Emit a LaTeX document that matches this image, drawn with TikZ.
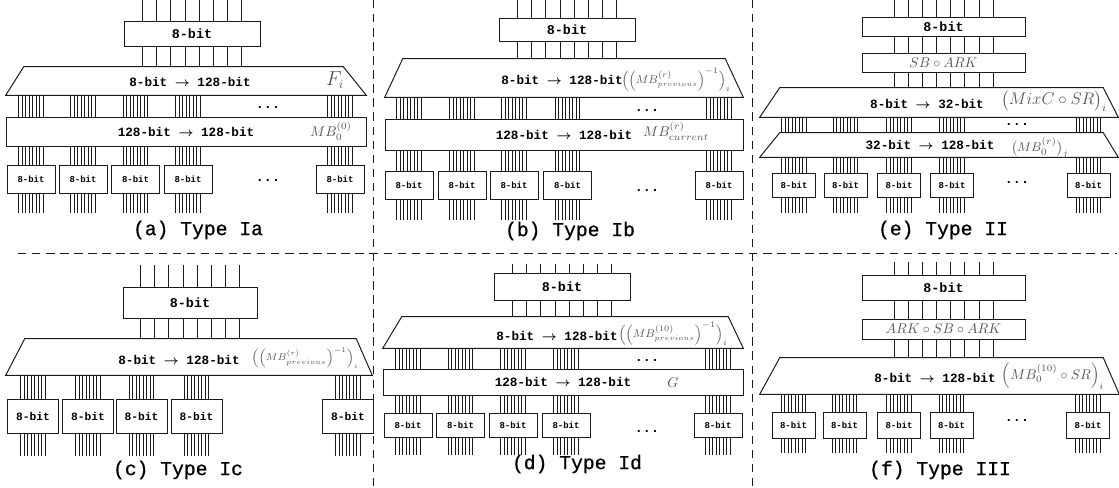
\documentclass[tikz,border=0pt]{standalone}
\usepackage{amsmath}
\usepackage{fontspec}
\setmonofont{Liberation Mono}
\newfontfamily\capfont{Liberation Mono}[FakeBold=0.8]
\usepackage{tikz}
\usetikzlibrary{positioning, calc}
\definecolor{lineDark}{HTML}{1A1A1A}
\definecolor{fnGray}{HTML}{555555}

\begin{document}
\begin{tikzpicture}[
        x=0.25mm, y=-0.25mm,
        blk/.style={
            draw=lineDark,
            line width=0.7pt,
            inner sep=0pt,
            minimum width=34mm,
            minimum height=6.25mm,
            font=\fontsize{9.5}{11}\selectfont\ttfamily\bfseries
        },
        cell/.style={
            draw=lineDark,
            line width=0.7pt,
            inner sep=0pt,
            minimum width=12mm,
            minimum height=7mm,
            font=\fontsize{6.4}{7}\selectfont\ttfamily\bfseries
        },
        hull/.style={inner sep=0pt},
        outline/.style={draw=lineDark, line width=0.7pt},
        wire/.style={draw=lineDark, line width=0.5pt},
        lbl/.style={inner sep=0pt, font=\fontsize{9}{11}\selectfont\ttfamily\bfseries},
        fn/.style={inner sep=0pt, text=fnGray, font=\fontsize{10}{12}\selectfont},
        dotrow/.style={inner sep=0pt, text height=0.5ex, text depth=0pt,
            font=\fontsize{9.5}{11}\selectfont\ttfamily\bfseries},
        captxt/.style={inner sep=0pt, font=\fontsize{14}{16}\selectfont\capfont},
        divider/.style={draw=lineDark, line width=0.6pt, dash pattern=on 6pt off 4pt}
    ]

    \useasboundingbox (0,0) rectangle (1119,488);

    % panel borders
    \draw[divider] (18,253) -- (1117,253);
    \draw[divider] (373,0) -- (373,488);
    \draw[divider] (752,0) -- (752,488);

    % (a) Type Ia
    \coordinate (topA) at (192,0);
    \coordinate (botA) at (192,213);
    \node[blk] (inA) at (192,33.5) {8-bit};
    \node[hull, minimum width=90mm, minimum height=7mm] (expA) at (186,81) {};
    \draw[outline] ([xshift=4.5mm]expA.north west) -- ([xshift=-5.75mm]expA.north east)
        -- (expA.south east) -- (expA.south west) -- cycle;
    \node[lbl] (expAtxt) at (190,82) {8-bit $\boldsymbol{\rightarrow}$ 128-bit};
    \node[fn, font=\fontsize{13.5}{14}\selectfont] (expAfn) at (335,80) {$F_i$};
    \node[blk, minimum width=90mm, minimum height=7.25mm, font=\fontsize{9}{11}\selectfont\ttfamily\bfseries] (mixA) at (186,131.5) {128-bit $\boldsymbol{\rightarrow}$ 128-bit};
    \node[fn] (mixAfn) at (331,131) {$MB_0^{(0)}$};
    \foreach \n/\x in {1/31, 2/83, 3/135.5, 4/188, 5/340}
        \node[cell] (oA\n) at (\x,179) {8-bit};
    \node[dotrow] (dA1) at (268,107) {...};
    \node[dotrow] (dA2) at (268,180) {...};
    \node[captxt] (capA) at (198,230) {(a) Type Ia};
    \foreach \k in {0,...,7}{
        \draw[wire] ([xshift={(\k-3.5)*3.54mm}]inA.north |- topA) -- ([xshift={(\k-3.5)*3.54mm}]inA.north);
        \draw[wire] ([xshift={(\k-3.5)*3.54mm}]inA.south) -- ([xshift={(\k-3.5)*3.54mm}]inA.south |- expA.north);
    }
    \foreach \o in {oA1,oA2,oA3,oA4,oA5}
        \foreach \j in {0,...,7}{
            \draw[wire] ([xshift={(\j-3.5)*0.875mm}]\o.north |- expA.south) -- ([xshift={(\j-3.5)*0.875mm}]\o.north |- mixA.north);
            \draw[wire] ([xshift={(\j-3.5)*0.875mm}]\o.north |- mixA.south) -- ([xshift={(\j-3.5)*0.875mm}]\o.north);
            \draw[wire] ([xshift={(\j-3.5)*0.875mm}]\o.south) -- ([xshift={(\j-3.5)*0.875mm}]\o.south |- botA);
        }

    % (b) Type Ib
    \coordinate (topB) at (567,0);
    \coordinate (botB) at (567,220);
    \node[blk, minimum height=5.75mm] (inB) at (567,29.5) {8-bit};
    \node[hull, minimum width=89.5mm, minimum height=9.5mm] (expB) at (564,78) {};
    \draw[outline] ([xshift=4.5mm]expB.north west) -- ([xshift=-4.5mm]expB.north east)
        -- (expB.south east) -- (expB.south west) -- cycle;
    \node[lbl] (expBtxt) at (562,80) {8-bit $\boldsymbol{\rightarrow}$ 128-bit};
    \node[fn, font=\fontsize{8}{10}\selectfont] (expBfn) at (676,80) {$\Bigl(\Bigl(MB^{(r)}_{\scriptscriptstyle previous}\Bigr)^{-1}\Bigr)_i$};
    \node[blk, minimum width=89.5mm, minimum height=7.75mm, font=\fontsize{9}{11}\selectfont\ttfamily\bfseries] (mixB) at (564,134.5) {128-bit $\boldsymbol{\rightarrow}$ 128-bit};
    \node[fn] (mixBfn) at (676,131) {$MB^{(r)}_{current}$};
    \foreach \n/\x in {1/409, 2/462, 3/514, 4/567.5, 5/719}
        \node[cell] (oB\n) at (\x,185) {8-bit};
    \node[dotrow] (dB1) at (647,110) {...};
    \node[dotrow] (dB2) at (647,190) {...};
    \node[captxt] (capB) at (570,231) {(b) Type Ib};
    \foreach \k in {0,...,7}{
        \draw[wire] ([xshift={(\k-3.5)*3.54mm}]inB.north |- topB) -- ([xshift={(\k-3.5)*3.54mm}]inB.north);
        \draw[wire] ([xshift={(\k-3.5)*3.54mm}]inB.south) -- ([xshift={(\k-3.5)*3.54mm}]inB.south |- expB.north);
    }
    \foreach \o in {oB1,oB2,oB3,oB4,oB5}
        \foreach \j in {0,...,7}{
            \draw[wire] ([xshift={(\j-3.5)*0.875mm}]\o.north |- expB.south) -- ([xshift={(\j-3.5)*0.875mm}]\o.north |- mixB.north);
            \draw[wire] ([xshift={(\j-3.5)*0.875mm}]\o.north |- mixB.south) -- ([xshift={(\j-3.5)*0.875mm}]\o.north);
            \draw[wire] ([xshift={(\j-3.5)*0.875mm}]\o.south) -- ([xshift={(\j-3.5)*0.875mm}]\o.south |- botB);
        }

    % (e) Type II
    \coordinate (topE) at (943.5,0);
    \coordinate (botE) at (943.5,213);
    \node[blk, minimum width=40.75mm, minimum height=4.75mm] (inE) at (943.5,26.5) {8-bit};
    \node[blk, minimum width=40.75mm, minimum height=4.75mm, font=\fontsize{10}{12}\selectfont, text=fnGray] (sbE) at (943.5,62.5) {$SB\circ ARK$};
    \node[hull, minimum width=89.5mm, minimum height=7.25mm] (expE) at (939,102.5) {};
    \draw[outline] ([xshift=5mm]expE.north west) -- ([xshift=-3.75mm]expE.north east)
        -- (expE.south east) -- (expE.south west) -- cycle;
    \node[lbl] (expEtxt) at (927,104) {8-bit $\boldsymbol{\rightarrow}$ 32-bit};
    \node[fn, font=\fontsize{12}{13}\selectfont] (expEfn) at (1054,101) {$\bigl(MixC\circ SR\bigr)_i$};
    \node[hull, minimum width=89.5mm, minimum height=6mm] (colE) at (939,145) {};
    \draw[outline] ([xshift=5mm]colE.north west) -- ([xshift=-3.75mm]colE.north east)
        -- (colE.south east) -- (colE.south west) -- cycle;
    \node[lbl] (colEtxt) at (930,145) {32-bit $\boldsymbol{\rightarrow}$ 128-bit};
    \node[fn, font=\fontsize{9.5}{11}\selectfont] (colEfn) at (1040,148) {$\bigl(MB_0^{(r)}\bigr)_j$};
    \foreach \n/\x in {1/794, 2/845.5, 3/899, 4/952, 5/1088.5}
        \node[cell, minimum width=10.75mm, minimum height=6mm] (oE\n) at (\x,185) {8-bit};
    \node[dotrow] (dE1) at (1017,124) {...};
    \node[dotrow] (dE2) at (1017,182) {...};
    \node[captxt] (capE) at (943,230) {(e) Type II};
    \foreach \k in {0,...,7}{
        \draw[wire] ([xshift={(\k-3.5)*3.54mm}]inE.north |- topE) -- ([xshift={(\k-3.5)*3.54mm}]inE.north);
        \draw[wire] ([xshift={(\k-3.5)*3.54mm}]inE.south) -- ([xshift={(\k-3.5)*3.54mm}]sbE.north);
        \draw[wire] ([xshift={(\k-3.5)*3.54mm}]sbE.south) -- ([xshift={(\k-3.5)*3.54mm}]sbE.south |- expE.north);
    }
    \foreach \o in {oE1,oE2,oE3,oE4,oE5}
        \foreach \j in {0,...,7}{
            \draw[wire] ([xshift={(\j-3.5)*0.875mm}]\o.north |- expE.south) -- ([xshift={(\j-3.5)*0.875mm}]\o.north |- colE.north);
            \draw[wire] ([xshift={(\j-3.5)*0.875mm}]\o.north |- colE.south) -- ([xshift={(\j-3.5)*0.875mm}]\o.north);
            \draw[wire] ([xshift={(\j-3.5)*0.875mm}]\o.south) -- ([xshift={(\j-3.5)*0.875mm}]\o.south |- botE);
        }

    % (c) Type Ic
    \coordinate (topC) at (190,265);
    \coordinate (botC) at (190,456);
    \node[blk, minimum width=33.5mm, minimum height=7.75mm] (inC) at (190,302.5) {8-bit};
    \node[hull, minimum width=91.5mm, minimum height=9mm] (expC) at (189,357) {};
    \draw[outline] ([xshift=4.75mm]expC.north west) -- ([xshift=-4mm]expC.north east)
        -- (expC.south east) -- (expC.south west) -- cycle;
    \node[lbl] (expCtxt) at (179,360) {8-bit $\boldsymbol{\rightarrow}$ 128-bit};
    \node[fn, font=\fontsize{7.5}{9}\selectfont] (expCfn) at (305,358) {$\Bigl(\Bigl(MB^{(r)}_{\scriptscriptstyle previous}\Bigr)^{-1}\Bigr)_i$};
    \foreach \n/\x in {1/33, 2/88, 3/141.5, 4/196.5, 5/348}
        \node[cell, minimum width=12.75mm, minimum height=8.5mm, font=\fontsize{8}{9}\selectfont\ttfamily\bfseries] (oC\n) at (\x,416) {8-bit};
    \node[captxt] (capC) at (178,470) {(c) Type Ic};
    \foreach \k in {0,...,7}{
        \draw[wire] ([xshift={(\k-3.5)*3.54mm}]inC.north |- topC) -- ([xshift={(\k-3.5)*3.54mm}]inC.north);
        \draw[wire] ([xshift={(\k-3.5)*3.54mm}]inC.south) -- ([xshift={(\k-3.5)*3.54mm}]inC.south |- expC.north);
    }
    \foreach \o in {oC1,oC2,oC3,oC4,oC5}
        \foreach \j in {0,...,7}{
            \draw[wire] ([xshift={(\j-3.5)*0.875mm}]\o.north |- expC.south) -- ([xshift={(\j-3.5)*0.875mm}]\o.north);
            \draw[wire] ([xshift={(\j-3.5)*0.875mm}]\o.south) -- ([xshift={(\j-3.5)*0.875mm}]\o.south |- botC);
        }

    % (d) Type Id
    \coordinate (topD) at (562,264);
    \coordinate (botD) at (562,455);
    \node[blk, minimum height=6.75mm] (inD) at (562,286.5) {8-bit};
    \node[hull, minimum width=90mm, minimum height=7.75mm] (expD) at (563,332.5) {};
    \draw[outline] ([xshift=4.75mm]expD.north west) -- ([xshift=-3.75mm]expD.north east)
        -- (expD.south east) -- (expD.south west) -- cycle;
    \node[lbl] (expDtxt) at (557,336) {8-bit $\boldsymbol{\rightarrow}$ 128-bit};
    \node[fn, font=\fontsize{8}{10}\selectfont] (expDfn) at (673,334) {$\Bigl(\Bigl(MB^{(10)}_{\scriptscriptstyle previous}\Bigr)^{-1}\Bigr)_i$};
    \node[blk, minimum width=90mm, minimum height=6.5mm, font=\fontsize{9}{11}\selectfont\ttfamily\bfseries] (mixD) at (563,382) {128-bit $\boldsymbol{\rightarrow}$ 128-bit};
    \node[fn] (mixDfn) at (673,383) {$G$};
    \foreach \n/\x in {1/408, 2/460.5, 3/513, 4/566, 5/718}
        \node[cell, minimum height=6mm] (oD\n) at (\x,425) {8-bit};
    \node[dotrow] (dD1) at (647,360) {...};
    \node[dotrow] (dD2) at (647,431) {...};
    \node[captxt] (capD) at (577,464) {(d) Type Id};
    \foreach \k in {0,...,7}{
        \draw[wire] ([xshift={(\k-3.5)*3.54mm}]inD.north |- topD) -- ([xshift={(\k-3.5)*3.54mm}]inD.north);
        \draw[wire] ([xshift={(\k-3.5)*3.54mm}]inD.south) -- ([xshift={(\k-3.5)*3.54mm}]inD.south |- expD.north);
    }
    \foreach \o in {oD1,oD2,oD3,oD4,oD5}
        \foreach \j in {0,...,7}{
            \draw[wire] ([xshift={(\j-3.5)*0.875mm}]\o.north |- expD.south) -- ([xshift={(\j-3.5)*0.875mm}]\o.north |- mixD.north);
            \draw[wire] ([xshift={(\j-3.5)*0.875mm}]\o.north |- mixD.south) -- ([xshift={(\j-3.5)*0.875mm}]\o.north);
            \draw[wire] ([xshift={(\j-3.5)*0.875mm}]\o.south) -- ([xshift={(\j-3.5)*0.875mm}]\o.south |- botD);
        }

    % (f) Type III
    \coordinate (topF) at (943.5,262);
    \coordinate (botF) at (943.5,453);
    \node[blk, minimum width=40.75mm] (inF) at (943.5,287.5) {8-bit};
    \node[blk, minimum width=40.75mm, minimum height=5mm, font=\fontsize{10}{12}\selectfont, text=fnGray] (arkF) at (943.5,329) {$ARK\circ SB\circ ARK$};
    \node[hull, minimum width=89.75mm, minimum height=9mm] (expF) at (939.5,376) {};
    \draw[outline] ([xshift=5mm]expF.north west) -- ([xshift=-4mm]expF.north east)
        -- (expF.south east) -- (expF.south west) -- cycle;
    \node[lbl] (expFtxt) at (935,378) {8-bit $\boldsymbol{\rightarrow}$ 128-bit};
    \node[fn, font=\fontsize{10}{12}\selectfont] (expFfn) at (1053,376) {$\Bigl(MB_0^{(10)}\circ SR\Bigr)_i$};
    \foreach \n/\x in {1/793.5, 2/844.5, 3/899, 4/951.5, 5/1088}
        \node[cell, minimum width=10.75mm, minimum height=6.5mm] (oF\n) at (\x,425) {8-bit};
    \node[dotrow] (dF1) at (1017,420) {...};
    \node[captxt] (capF) at (940,470) {(f) Type III};
    \foreach \k in {0,...,7}{
        \draw[wire] ([xshift={(\k-3.5)*3.54mm}]inF.north |- topF) -- ([xshift={(\k-3.5)*3.54mm}]inF.north);
        \draw[wire] ([xshift={(\k-3.5)*3.54mm}]inF.south) -- ([xshift={(\k-3.5)*3.54mm}]arkF.north);
        \draw[wire] ([xshift={(\k-3.5)*3.54mm}]arkF.south) -- ([xshift={(\k-3.5)*3.54mm}]arkF.south |- expF.north);
    }
    \foreach \o in {oF1,oF2,oF3,oF4,oF5}
        \foreach \j in {0,...,7}{
            \draw[wire] ([xshift={(\j-3.5)*0.875mm}]\o.north |- expF.south) -- ([xshift={(\j-3.5)*0.875mm}]\o.north);
            \draw[wire] ([xshift={(\j-3.5)*0.875mm}]\o.south) -- ([xshift={(\j-3.5)*0.875mm}]\o.south |- botF);
        }

\end{tikzpicture}
\end{document}
